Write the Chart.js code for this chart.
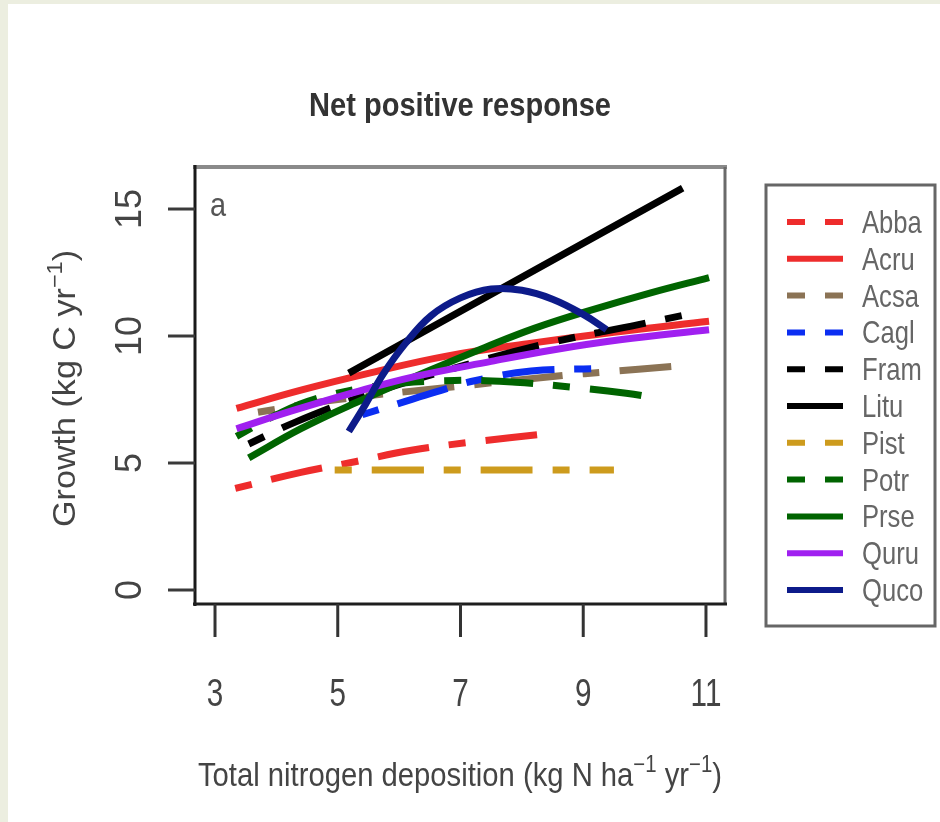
<!DOCTYPE html>
<html>
<head>
<meta charset="utf-8">
<title>Net positive response</title>
<script src="https://cdn.jsdelivr.net/npm/chart.js@4"></script>
<style>
  html, body { margin: 0; padding: 0; background: #eceee0; }
</style>
</head>
<body>
<canvas id="growthChart" width="940" height="822"></canvas>
<script>
// species codes, in legend order
const species = ['Abba', 'Acru', 'Acsa', 'Cagl', 'Fram', 'Litu', 'Pist', 'Potr', 'Prse', 'Quru', 'Quco'];

// fitted response curves (x = N deposition, y = growth)
const abbaX = [3.33, 4.4, 5.3, 6.2, 7.1, 8.5];
const abbaY = [4.0, 4.63, 5.06, 5.5, 5.8, 6.18];
const acruX = [3.35, 4.4, 5.55, 6.75, 8.1, 9.5, 11.05];
const acruY = [7.15, 7.87, 8.56, 9.2, 9.7, 10.15, 10.58];
const acsaX = [3.7, 5.0, 6.9, 8.7, 9.35, 10.45];
const acsaY = [7.0, 7.5, 8.0, 8.45, 8.58, 8.8];
const caglX = [5.4, 6.0, 6.6, 7.25, 8.15, 9.2];
const caglY = [6.9, 7.35, 7.8, 8.25, 8.62, 8.72];
const framX = [3.55, 4.3, 5.5, 7.0, 8.4, 9.9, 10.8];
const framY = [5.75, 6.6, 7.7, 8.8, 9.7, 10.45, 10.9];
const lituX = [5.18, 10.62];
const lituY = [8.54, 15.82];
const pistX = [4.95, 9.5];
const pistY = [4.72, 4.72];
const potrX = [3.35, 4.0, 4.6, 5.7, 6.9, 7.9, 8.85, 9.7, 10.2];
const potrY = [6.05, 6.9, 7.5, 8.05, 8.25, 8.18, 7.98, 7.75, 7.55];
const prseX = [3.55, 4.4, 5.3, 6.5, 7.4, 8.2, 9.1, 10.1, 11.05];
const prseY = [5.2, 6.35, 7.38, 8.65, 9.55, 10.3, 11.0, 11.7, 12.3];
const quruX = [3.35, 4.25, 5.3, 6.25, 7.5, 8.5, 9.6, 11.05];
const quruY = [6.35, 7.05, 7.8, 8.4, 9.0, 9.45, 9.85, 10.25];
const qucoX = [5.18, 5.45, 5.74, 6.1, 6.52, 7.0, 7.5, 8.0, 8.5, 9.0, 9.38];
const qucoY = [6.24, 7.3, 8.5, 9.7, 10.8, 11.5, 11.85, 11.8, 11.45, 10.85, 10.25];

const xTicks = [3, 5, 7, 9, 11];
const yTicks = [0, 5, 10, 15];

const seriesX = [abbaX, acruX, acsaX, caglX, framX, lituX, pistX, potrX, prseX, quruX, qucoX];
const seriesY = [abbaY, acruY, acsaY, caglY, framY, lituY, pistY, potrY, prseY, quruY, qucoY];

const colors = ['#ee2c2c', '#ee2c2c', '#8b7355', '#0b2ef2', '#000000', '#000000',
                '#cd9b1d', '#006400', '#006400', '#a020f0', '#0d1b8a'];
const dashed = [true, false, true, true, true, false, true, true, false, false, false];

const FONT = '"Liberation Sans", Arial, Helvetica, sans-serif';

// draw text made of pieces (some superscript), squeezed horizontally like the original
function drawText(ctx, segs, x, y, o) {
  const size = o.size, weight = o.weight || 'normal';
  ctx.save();
  ctx.translate(x, y);
  if (o.rotate) ctx.rotate(o.rotate);
  let total = 0;
  const widths = segs.map(s => {
    ctx.font = `${weight} ${s.sup ? Math.round(size * 0.7) : size}px ${FONT}`;
    const w = ctx.measureText(s.t).width;
    total += w;
    return w;
  });
  const k = o.target ? o.target / total : (o.sx || 1);
  ctx.scale(k, 1);
  let cx = o.align === 'left' ? 0 : -total / 2;
  ctx.fillStyle = o.color || '#333';
  ctx.textAlign = 'left';
  ctx.textBaseline = 'alphabetic';
  segs.forEach((s, i) => {
    ctx.font = `${weight} ${s.sup ? Math.round(size * 0.7) : size}px ${FONT}`;
    ctx.fillText(s.t, cx, s.sup ? -size * 0.42 : 0);
    cx += widths[i];
  });
  ctx.restore();
}

function seg(ctx, x1, y1, x2, y2, color, w, dash) {
  ctx.save();
  ctx.strokeStyle = color;
  ctx.lineWidth = w;
  ctx.setLineDash(dash || []);
  ctx.beginPath();
  ctx.moveTo(x1, y1);
  ctx.lineTo(x2, y2);
  ctx.stroke();
  ctx.restore();
}

const rFrame = {
  id: 'rFrame',
  beforeDraw(chart) {
    const ctx = chart.ctx;
    ctx.save();
    ctx.fillStyle = '#eceee0';
    ctx.fillRect(0, 0, chart.width, chart.height);
    ctx.fillStyle = '#ffffff';
    ctx.fillRect(8, 4, chart.width - 8, chart.height - 4);
    ctx.restore();
  },
  afterDraw(chart) {
    const { ctx, chartArea: a, scales: { x, y } } = chart;

    // plot box
    seg(ctx, a.left - 2, a.top, a.right + 2, a.top, '#8a8a8a', 4);
    seg(ctx, a.right, a.top, a.right, a.bottom, '#6a6a6a', 3);
    seg(ctx, a.left, a.top - 2, a.left, a.bottom + 2, '#1a1a1a', 3);
    seg(ctx, a.left - 2, a.bottom, a.right + 2, a.bottom, '#1e1e1e', 3);

    // x axis ticks + labels
    x.ticks.forEach(t => {
      const px = x.getPixelForValue(t.value);
      seg(ctx, px, a.bottom, px, a.bottom + 33, '#333', 3);
      drawText(ctx, [{ t: String(t.value) }], px, a.bottom + 102, { size: 38, sx: 0.78, color: '#444' });
    });

    // y axis ticks + rotated labels
    y.ticks.forEach(t => {
      const py = y.getPixelForValue(t.value);
      seg(ctx, a.left - 27, py, a.left, py, '#3a3a3a', 3);
      drawText(ctx, [{ t: String(t.value) }], a.left - 54, py, { size: 36, sx: 1, color: '#444', rotate: -Math.PI / 2 });
    });

    // panel letter
    drawText(ctx, [{ t: 'a' }], a.left + 23, a.top + 49, { size: 34, sx: 0.85, color: '#555' });

    // title and axis titles
    const cx = (a.left + a.right) / 2;
    drawText(ctx, [{ t: 'Net positive response' }], cx, a.top - 51, { size: 33, weight: 'bold', target: 302, color: '#333' });
    drawText(ctx, [{ t: 'Total nitrogen deposition (kg N ha' }, { t: '\u22121', sup: true }, { t: ' yr' }, { t: '\u22121', sup: true }, { t: ')' }],
      cx, a.bottom + 182, { size: 33, target: 524, color: '#444' });
    drawText(ctx, [{ t: 'Growth (kg C yr' }, { t: '\u22121', sup: true }, { t: ')' }],
      a.left - 120, (a.top + a.bottom) / 2 + 3, { size: 32, target: 277, color: '#444', rotate: -Math.PI / 2 });

    // legend
    const lx = a.right + 41, ly = 185, lw = 169, lh = 441;
    ctx.save();
    ctx.strokeStyle = '#666';
    ctx.lineWidth = 3;
    ctx.strokeRect(lx, ly, lw, lh);
    ctx.restore();
    chart.data.datasets.forEach((ds, i) => {
      const ry = 222 + i * 36.8;
      seg(ctx, lx + 21, ry, lx + 77, ry, ds.borderColor, 6, ds.borderDash.length ? [18, 20] : []);
      drawText(ctx, [{ t: ds.label }], lx + 96, ry + 11, { size: 32, sx: 0.8, color: '#666', align: 'left' });
    });
  }
};

const datasets = species.map((name, i) => ({
  label: name,
  data: seriesX[i].map((xv, j) => ({ x: xv, y: seriesY[i][j] })),
  borderColor: colors[i],
  borderWidth: 7,
  borderDash: dashed[i] ? [17, 20, 52, 20] : [],
  pointRadius: 0,
  tension: 0.4,
  fill: false,
  order: species.length - i
}));

new Chart(document.getElementById('growthChart'), {
  type: 'line',
  data: { datasets },
  options: {
    responsive: false,
    devicePixelRatio: 1,
    animation: false,
    events: [],
    layout: { padding: { left: 195, right: 215, top: 167, bottom: 218 } },
    plugins: { legend: { display: false }, title: { display: false }, tooltip: { enabled: false } },
    scales: {
      x: {
        type: 'linear', min: 2.674, max: 11.31,
        afterBuildTicks: s => { s.ticks = xTicks.map(v => ({ value: v })); },
        afterFit: s => { s.height = 0; },
        ticks: { display: false }, grid: { display: false }, border: { display: false }
      },
      y: {
        type: 'linear', min: -0.551, max: 16.654,
        afterBuildTicks: s => { s.ticks = yTicks.map(v => ({ value: v })); },
        afterFit: s => { s.width = 0; },
        ticks: { display: false }, grid: { display: false }, border: { display: false }
      }
    }
  },
  plugins: [rFrame]
});
</script>
</body>
</html>
